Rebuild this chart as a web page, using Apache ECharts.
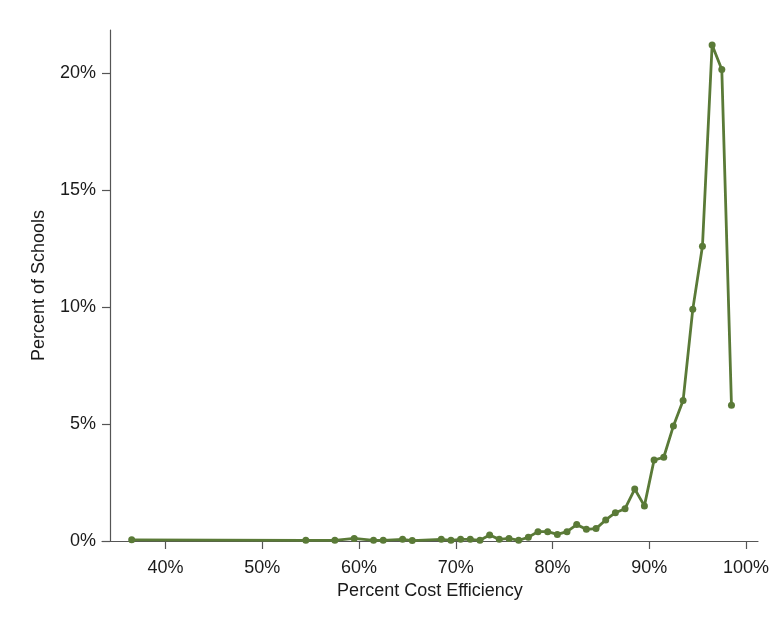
<!DOCTYPE html>
<html>
<head>
<meta charset="utf-8">
<script src="https://cdn.jsdelivr.net/npm/echarts@6/dist/echarts.min.js"></script>
<style>
html,body{margin:0;padding:0;background:#fff;}
#c{width:772px;height:618px;}
</style>
</head>
<body>
<div id="c"></div>
<script>
const efficiency = [36.5, 54.5, 57.5, 59.5, 61.5, 62.5, 64.5, 65.5, 68.5, 69.5, 70.5, 71.5, 72.5, 73.5, 74.5, 75.5, 76.5, 77.5, 78.5, 79.5, 80.5, 81.5, 82.5, 83.5, 84.5, 85.5, 86.5, 87.5, 88.5, 89.5, 90.5, 91.5, 92.5, 93.5, 94.5, 95.5, 96.5, 97.5, 98.5];
const percentSchools = [0.05, 0.03, 0.03, 0.11, 0.03, 0.03, 0.07, 0.02, 0.07, 0.03, 0.07, 0.07, 0.03, 0.26, 0.07, 0.11, 0.03, 0.16, 0.40, 0.40, 0.28, 0.40, 0.70, 0.50, 0.53, 0.90, 1.21, 1.38, 2.22, 1.50, 3.46, 3.58, 4.92, 6.0, 9.9, 12.6, 21.2, 20.15, 5.8];
const xTicks = [40, 50, 60, 70, 80, 90, 100];
const yTicks = [0, 5, 10, 15, 20];

const FONT = "'Liberation Sans', Arial, sans-serif";
const TXT = '#1a1a1a';
const AX = '#555555';
const GREEN = '#5a7a37';

const chart = echarts.init(document.getElementById('c'), null, {renderer: 'canvas'});
chart.setOption({
  animation: false,
  backgroundColor: '#ffffff',
  grid: {left: 102, right: 13, top: 30, bottom: 77, containLabel: false},
  xAxis: {
    type: 'value',
    min: 33.43, max: 101.24,
    name: 'Percent Cost Efficiency',
    nameLocation: 'middle',
    nameGap: 38,
    nameTextStyle: {color: TXT, fontFamily: FONT, fontSize: 18},
    splitLine: {show: false},
    axisLine: {show: true, lineStyle: {color: AX, width: 1.2}},
    axisTick: {show: true, length: 8, lineStyle: {color: AX, width: 1.2}, customValues: xTicks},
    axisLabel: {color: TXT, fontFamily: FONT, fontSize: 18, margin: 18, customValues: xTicks,
      formatter: v => v + '%'}
  },
  yAxis: {
    type: 'value',
    min: 0, max: 21.84,
    offset: -8,
    name: 'Percent of Schools',
    nameLocation: 'middle',
    nameGap: 62,
    nameRotate: 90,
    nameTextStyle: {color: TXT, fontFamily: FONT, fontSize: 18},
    splitLine: {show: false},
    axisLine: {show: true, lineStyle: {color: AX, width: 1.2}},
    axisTick: {show: true, length: 8, lineStyle: {color: AX, width: 1.2}, customValues: yTicks},
    axisLabel: {color: TXT, fontFamily: FONT, fontSize: 18, margin: 14, customValues: yTicks,
      formatter: v => v + '%'}
  },
  series: [{
    type: 'line',
    data: efficiency.map((x, i) => [x, percentSchools[i]]),
    symbol: 'circle',
    symbolSize: 7,
    showSymbol: true,
    lineStyle: {color: GREEN, width: 2.8},
    itemStyle: {color: GREEN},
    z: 3
  }]
});
</script>
</body>
</html>
